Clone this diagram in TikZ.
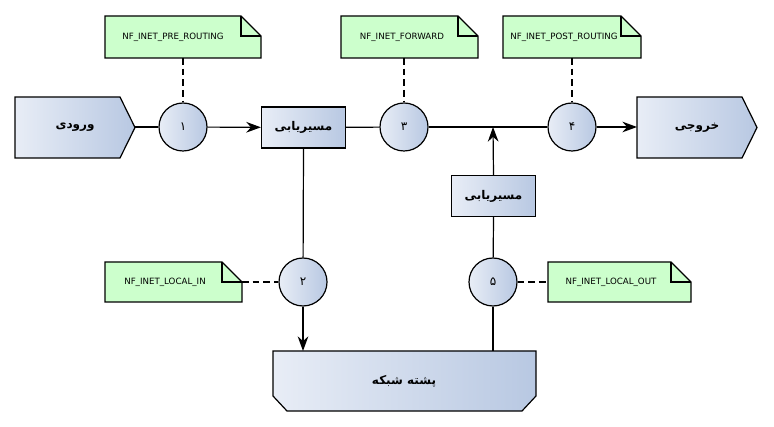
\documentclass[tikz,border=0pt]{standalone}
\usepackage{fontspec}
\setmainfont{DejaVu Sans}
\newfontfamily\arabicfont[Script=Arabic]{DejaVu Sans}
\TeXXeTstate=1
\usetikzlibrary{arrows.meta}
\definecolor{gl}{HTML}{E8EDF6}
\definecolor{gr}{HTML}{B8C8E2}
\definecolor{notec}{HTML}{CCFFCC}
\tikzset{
 grad/.style={draw=black,line width=0.9pt,left color=gl,right color=gr},
 hook/.style={grad,circle,minimum size=48*0.75pt,inner sep=0pt,font=\arabicfont\small},
 router/.style={grad,rectangle,minimum width=84*0.75pt,minimum height=41*0.75pt,inner sep=0pt,font=\arabicfont\bfseries\small},
 notebox/.style={draw=black,line width=0.9pt,fill=notec},
 notetxt/.style={font=\fontsize{6.5}{8}\selectfont},
 conn/.style={line width=0.9pt},
 arr/.style={conn,-{Stealth[length=11pt,width=8pt]}},
 dsh/.style={line width=0.9pt,dash pattern=on 5pt off 3pt},
 ar/.style={font=\arabicfont\bfseries\small}
}
\newcommand{\notebody}[5]{% x1 y1 x2 y2 name
 \fill[notec] (#1,#2) -- (#3-20,#2) -- (#3,#2+20) -- (#3,#4) -- (#1,#4) -- cycle;
 \draw[line width=0.9pt] (#1,#2) -- (#3-20,#2) -- (#3,#2+20) -- (#3,#4) -- (#1,#4) -- cycle;
 \draw[line width=0.9pt] (#3-20,#2) -- (#3-20,#2+20) -- (#3,#2+20);
 \coordinate (#5) at ({(#1+#3)/2},{(#2+#4)/2});}
\begin{document}
\begin{tikzpicture}[x=0.75pt,y=-0.75pt]
\useasboundingbox (0,0) rectangle (774,427);
% input/output
\path[grad] (15,97) -- (120,97) -- (135,127.5) -- (120,158) -- (15,158) -- cycle;
\node[ar] (in) at (75,127.5) {\beginR ورودی\endR};
\coordinate (inR) at (135,127);
\path[grad] (637,97) -- (742,97) -- (757,127.5) -- (742,158) -- (637,158) -- cycle;
\node[ar] (out) at (697,127.5) {\beginR خروجی\endR};
\coordinate (outL) at (637,127);
% stack
\path[grad] (273,351) -- (536,351) -- (536,396) -- (522,411) -- (287,411) -- (273,396) -- cycle;
\node[ar] (stack) at (404,381) {\beginR پشته شبکه\endR};
% routers
\node[router] (r1) at (303.5,127.5) {\beginR مسیریابی\endR};
\node[router] (r2) at (493.5,196) {\beginR مسیریابی\endR};
% hooks
\node[hook] (h1) at (183,127) {۱};
\node[hook] (h3) at (404,127) {۳};
\node[hook] (h4) at (572,127) {۴};
\node[hook] (h2) at (303,282) {۲};
\node[hook] (h5) at (493,282) {۵};
\coordinate (j) at (493,127);
\coordinate (s2) at (303,351);
\coordinate (s5) at (493,351);
% connectors
\draw[conn] (inR) -- (h1);
\draw[arr] (h1) -- (r1);
\draw[conn] (r1) -- (h3);
\draw[conn] (h3) -- (h4);
\draw[arr] (h4) -- (outL);
\draw[conn] (r1.south) -- (h2);
\draw[arr] (h2) -- (s2);
\draw[conn] (s5) -- (h5);
\draw[conn] (h5) -- (r2.south);
\draw[arr] (r2.north) -- (j);
% notes
\notebody{105}{16}{261}{58}{n1}
\node[notetxt] (t1) at (173,37) {NF\_INET\_PRE\_ROUTING};
\notebody{341}{16}{478}{58}{n3}
\node[notetxt] (t3) at (402,37) {NF\_INET\_FORWARD};
\notebody{503}{16}{641}{58}{n4}
\node[notetxt] (t4) at (564,37) {NF\_INET\_POST\_ROUTING};
\notebody{105}{262}{242}{302}{n2}
\node[notetxt] (t2) at (165,282) {NF\_INET\_LOCAL\_IN};
\notebody{548}{262}{691}{302}{n5}
\node[notetxt] (t5) at (611,282) {NF\_INET\_LOCAL\_OUT};
\coordinate (n1b) at (183,58);
\coordinate (n3b) at (404,58);
\coordinate (n4b) at (572,58);
\coordinate (n2r) at (242,282);
\coordinate (n5l) at (548,282);
\draw[dsh] (n1b) -- (h1);
\draw[dsh] (n3b) -- (h3);
\draw[dsh] (n4b) -- (h4);
\draw[dsh] (n2r) -- (h2);
\draw[dsh] (h5) -- (n5l);
\end{tikzpicture}
\end{document}
